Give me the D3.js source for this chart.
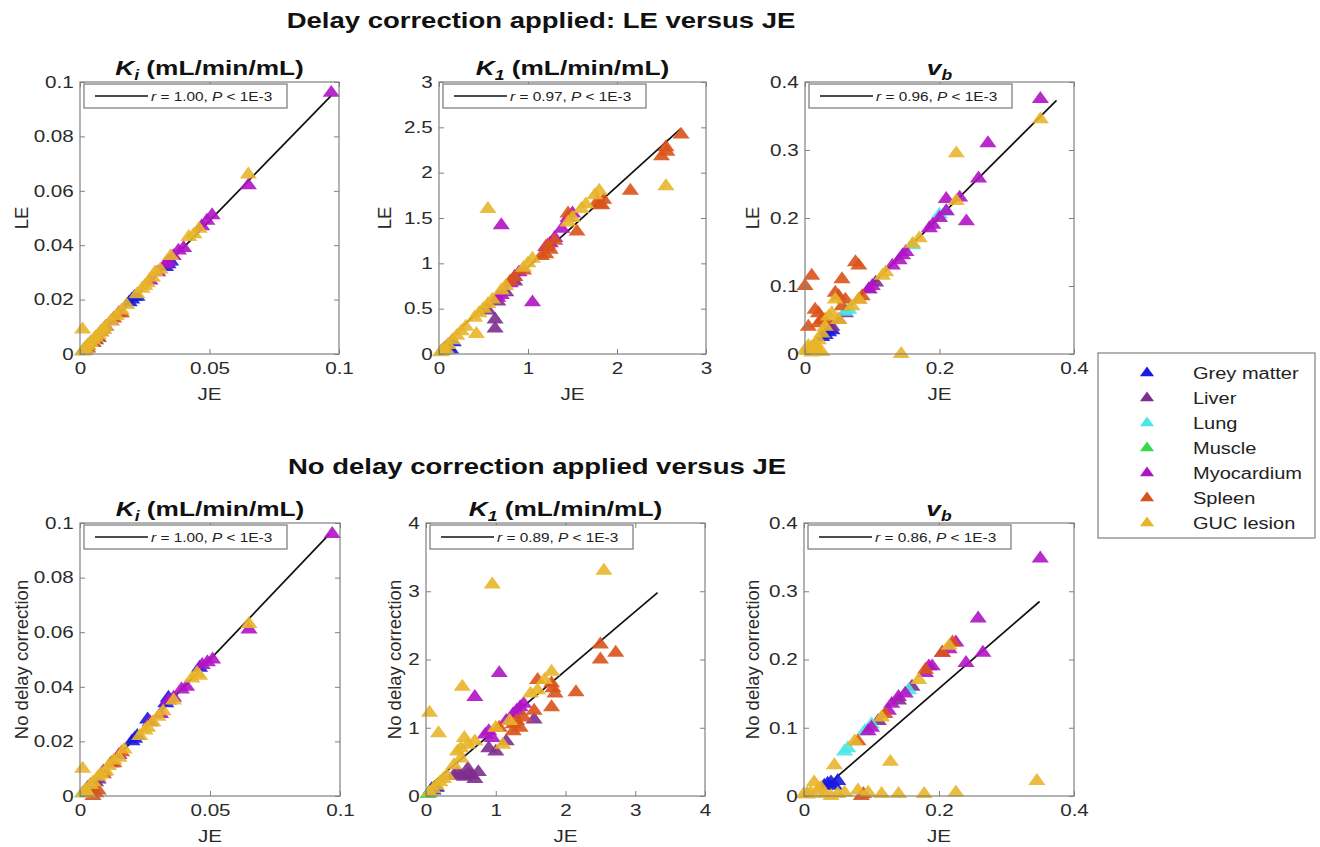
<!DOCTYPE html>
<html>
<head>
<meta charset="utf-8">
<script src="https://cdn.jsdelivr.net/npm/d3@7"></script>
<style>
body { margin: 0; background: #fff; }
text { font-family: "Liberation Sans", Arial, sans-serif; }
</style>
</head>
<body>
<script>
// the figure is stretched horizontally, so text and markers get this x scale
var sx = 1.25;

var tissues = ["Grey matter", "Liver", "Lung", "Muscle", "Myocardium", "Spleen", "GUC lesion"];
var tissueColors = ["#1a1ae0", "#7e2f8e", "#4de6e6", "#38d848", "#b014c4", "#d95319", "#e8b52a"];

// [JE, other, tissue index]
var kiLE = [
  [0.019,0.019,0],[0.020,0.020,0],[0.021,0.021,0],[0.022,0.021,0],[0.033,0.032,0],[0.034,0.033,0],[0.035,0.034,0],
  [0.002,0.002,1],[0.003,0.003,1],[0.004,0.004,1],[0.005,0.004,1],[0.006,0.005,1],[0.007,0.006,1],[0.008,0.008,1],[0.010,0.010,1],
  [0.001,0.001,2],[0.002,0.002,2],
  [0.003,0.003,3],[0.004,0.004,3],
  [0.097,0.096,4],[0.065,0.062,4],[0.051,0.051,4],[0.049,0.049,4],[0.047,0.047,4],[0.040,0.039,4],[0.038,0.038,4],[0.036,0.036,4],[0.034,0.034,4],[0.033,0.033,4],[0.030,0.030,4],[0.027,0.027,4],[0.015,0.015,4],[0.012,0.012,4],
  [0.003,0.002,5],[0.005,0.004,5],[0.006,0.006,5],[0.007,0.006,5],[0.009,0.009,5],[0.013,0.013,5],[0.016,0.015,5],
  [0.065,0.066,6],[0.046,0.046,6],[0.044,0.044,6],[0.042,0.043,6],[0.035,0.036,6],[0.031,0.031,6],[0.029,0.030,6],[0.028,0.028,6],[0.026,0.026,6],[0.025,0.025,6],[0.024,0.024,6],[0.022,0.022,6],[0.018,0.018,6],[0.016,0.016,6],[0.014,0.014,6],[0.012,0.012,6],[0.010,0.010,6],[0.009,0.009,6],[0.008,0.008,6],[0.007,0.007,6],[0.006,0.006,6],[0.005,0.005,6],[0.004,0.004,6],[0.003,0.003,6],[0.002,0.002,6],[0.001,0.009,6],[0.001,0.001,6],[0.002,0.001,6]
];

var k1LE = [
  [0.13,0.05,0],[0.10,0.08,0],[0.16,0.13,0],
  [0.63,0.38,1],[0.63,0.28,1],[0.66,0.58,1],[0.85,0.80,1],[0.75,0.68,1],[0.55,0.48,1],
  [0.05,0.04,2],
  [0.03,0.03,3],
  [0.70,1.42,4],[1.05,0.57,4],[1.38,1.38,4],[1.30,1.28,4],[1.25,1.22,4],[1.20,1.18,4],[0.90,0.90,4],[0.85,0.85,4],[0.80,0.78,4],[0.70,0.65,4],[0.66,0.62,4],[1.45,1.50,4],[1.50,1.55,4],
  [2.72,2.42,5],[2.55,2.28,5],[2.50,2.18,5],[2.56,2.23,5],[2.15,1.80,5],[1.85,1.70,5],[1.80,1.65,5],[1.78,1.68,5],[1.83,1.64,5],[1.55,1.35,5],[1.45,1.55,5],[1.30,1.25,5],[1.25,1.15,5],[1.20,1.10,5],[1.22,1.20,5],[1.15,1.08,5],[0.95,0.92,5],[0.85,0.85,5],[0.80,0.80,5],
  [2.55,1.85,6],[1.80,1.80,6],[0.55,1.60,6],[0.42,0.22,6],[1.65,1.65,6],[1.50,1.50,6],[1.45,1.45,6],[1.05,1.05,6],[1.00,1.00,6],[0.95,0.95,6],[0.75,0.75,6],[0.70,0.70,6],[0.60,0.60,6],[0.55,0.55,6],[0.50,0.50,6],[0.45,0.45,6],[0.40,0.40,6],[0.30,0.30,6],[0.25,0.25,6],[0.20,0.20,6],[0.15,0.15,6],[0.10,0.10,6],[0.05,0.05,6],[0.02,0.02,6],[0.08,0.05,6],[1.75,1.75,6],[1.60,1.60,6]
];

var vbLE = [
  [0.035,0.032,0],[0.030,0.028,0],[0.040,0.035,0],[0.025,0.025,0],
  [0.060,0.060,1],[0.050,0.050,1],[0.040,0.040,1],[0.095,0.095,1],[0.105,0.105,1],
  [0.065,0.065,2],[0.060,0.062,2],[0.210,0.210,2],[0.200,0.205,2],[0.160,0.160,2],
  [0.005,0.005,3],[0.008,0.007,3],
  [0.350,0.375,4],[0.272,0.310,4],[0.258,0.258,4],[0.240,0.195,4],[0.230,0.230,4],[0.210,0.228,4],[0.190,0.190,4],[0.185,0.185,4],[0.150,0.150,4],[0.145,0.145,4],[0.140,0.138,4],[0.130,0.130,4],[0.100,0.100,4],[0.095,0.095,4],[0.210,0.210,4],[0.200,0.200,4],
  [0.080,0.130,5],[0.075,0.135,5],[0.055,0.110,5],[0.010,0.115,5],[0.000,0.100,5],[0.050,0.085,5],[0.045,0.090,5],[0.060,0.080,5],[0.055,0.070,5],[0.020,0.060,5],[0.015,0.065,5],[0.005,0.040,5],[0.025,0.050,5],[0.080,0.080,5],[0.085,0.085,5],[0.020,0.045,5],[0.030,0.050,5],
  [0.350,0.345,6],[0.225,0.295,6],[0.143,0.000,6],[0.225,0.225,6],[0.170,0.170,6],[0.160,0.162,6],[0.120,0.120,6],[0.115,0.115,6],[0.080,0.080,6],[0.070,0.070,6],[0.050,0.050,6],[0.045,0.080,6],[0.040,0.060,6],[0.035,0.055,6],[0.030,0.040,6],[0.025,0.030,6],[0.020,0.020,6],[0.015,0.015,6],[0.010,0.010,6],[0.005,0.005,6],[0.000,0.005,6],[0.020,0.005,6],[0.025,0.003,6],[0.010,0.002,6],[0.015,0.008,6],[0.005,0.012,6]
];

var kiND = [
  [0.020,0.020,0],[0.021,0.021,0],[0.022,0.022,0],[0.033,0.034,0],[0.034,0.036,0],[0.046,0.047,0],[0.026,0.028,0],
  [0.003,0.003,1],[0.004,0.004,1],[0.006,0.005,1],[0.007,0.006,1],[0.009,0.009,1],[0.012,0.012,1],
  [0.002,0.002,2],[0.001,0.001,2],
  [0.003,0.002,3],
  [0.097,0.096,4],[0.065,0.061,4],[0.051,0.050,4],[0.049,0.049,4],[0.047,0.048,4],[0.041,0.040,4],[0.039,0.039,4],[0.036,0.036,4],[0.034,0.035,4],[0.031,0.030,4],[0.027,0.027,4],[0.015,0.015,4],
  [0.006,0.001,5],[0.007,0.002,5],[0.005,0.000,5],[0.009,0.008,5],[0.013,0.012,5],[0.016,0.016,5],
  [0.065,0.063,6],[0.046,0.044,6],[0.045,0.045,6],[0.043,0.043,6],[0.036,0.035,6],[0.032,0.031,6],[0.030,0.029,6],[0.028,0.027,6],[0.026,0.025,6],[0.025,0.024,6],[0.023,0.022,6],[0.017,0.017,6],[0.015,0.014,6],[0.013,0.013,6],[0.011,0.011,6],[0.010,0.009,6],[0.008,0.008,6],[0.007,0.007,6],[0.005,0.005,6],[0.004,0.004,6],[0.002,0.002,6],[0.001,0.010,6],[0.001,0.001,6],[0.003,0.001,6]
];

var k1ND = [
  [0.10,0.08,0],[0.15,0.12,0],[0.08,0.10,0],
  [0.50,0.30,1],[0.55,0.28,1],[0.60,0.32,1],[0.65,0.30,1],[0.70,0.25,1],[0.45,0.33,1],[0.60,0.40,1],[1.00,0.65,1],[1.15,0.80,1],[1.55,1.12,1],[0.90,0.70,1],[0.40,0.30,1],[0.75,0.35,1],
  [0.05,0.05,2],
  [0.03,0.03,3],
  [1.05,1.80,4],[0.70,1.45,4],[1.40,1.35,4],[1.30,1.25,4],[1.25,1.20,4],[1.15,1.10,4],[0.90,0.95,4],[0.85,0.90,4],[0.95,0.85,4],[1.35,1.30,4],
  [2.50,2.22,5],[2.50,2.00,5],[2.72,2.10,5],[2.15,1.52,5],[1.82,1.58,5],[1.80,1.65,5],[1.85,1.50,5],[1.80,1.30,5],[1.60,1.70,5],[1.55,1.25,5],[1.30,1.10,5],[1.25,1.05,5],[1.35,1.00,5],[1.25,0.95,5],[1.05,1.00,5],[1.40,1.15,5],
  [2.55,3.30,6],[0.95,3.10,6],[0.52,1.60,6],[0.05,1.22,6],[0.18,0.92,6],[1.80,1.82,6],[1.60,1.55,6],[1.50,1.50,6],[1.00,1.00,6],[0.55,0.85,6],[0.50,0.70,6],[0.45,0.65,6],[0.50,0.55,6],[0.40,0.45,6],[0.30,0.30,6],[0.25,0.25,6],[0.20,0.20,6],[0.15,0.15,6],[0.10,0.10,6],[0.05,0.05,6],[1.10,0.75,6],[1.20,1.10,6],[1.70,1.70,6],[0.60,0.75,6],[0.70,0.80,6]
];

var vbND = [
  [0.040,0.020,0],[0.050,0.022,0],[0.035,0.018,0],[0.045,0.015,0],[0.030,0.015,0],
  [0.110,0.110,1],[0.140,0.140,1],[0.160,0.160,1],
  [0.060,0.065,2],[0.065,0.070,2],[0.100,0.105,2],[0.090,0.095,2],[0.155,0.155,2],
  [0.005,0.003,3],
  [0.350,0.348,4],[0.258,0.260,4],[0.265,0.210,4],[0.240,0.195,4],[0.225,0.225,4],[0.215,0.215,4],[0.205,0.210,4],[0.190,0.190,4],[0.180,0.180,4],[0.150,0.150,4],[0.140,0.145,4],[0.130,0.135,4],[0.125,0.125,4],[0.100,0.100,4],[0.095,0.095,4],[0.185,0.190,4],
  [0.085,0.000,5],[0.088,0.003,5],[0.080,0.080,5],[0.120,0.120,5],[0.205,0.210,5],[0.220,0.225,5],[0.180,0.185,5],
  [0.345,0.022,6],[0.128,0.050,6],[0.045,0.045,6],[0.015,0.020,6],[0.225,0.005,6],[0.178,0.003,6],[0.140,0.003,6],[0.115,0.003,6],[0.095,0.005,6],[0.080,0.008,6],[0.060,0.005,6],[0.050,0.003,6],[0.030,0.003,6],[0.020,0.008,6],[0.010,0.005,6],[0.005,0.002,6],[0.000,0.003,6],[0.040,0.000,6],[0.170,0.170,6],[0.115,0.115,6],[0.215,0.220,6],[0.075,0.080,6],[0.025,0.012,6]
];

// regression line ends [x0, y0, x1, y1]
var kiLEFit = [0, 0, 0.097, 0.095];
var k1LEFit = [0, 0.07, 2.71, 2.48];
var vbLEFit = [0, 0.004, 0.374, 0.373];
var kiNDFit = [0, 0, 0.096, 0.096];
var k1NDFit = [0.04, 0.14, 3.32, 2.98];
var vbNDFit = [0.038, 0.019, 0.349, 0.285];

var rValues = ["1.00", "0.97", "0.96", "1.00", "0.89", "0.86"];

var kiXTicks = [0, 0.05, 0.1], kiYTicks = [0, 0.02, 0.04, 0.06, 0.08, 0.1];
var k1XTicks = [0, 1, 2, 3], k1YTicks = [0, 0.5, 1, 1.5, 2, 2.5, 3];
var k1NDTicks = [0, 1, 2, 3, 4];
var vbTicks = [0, 0.2, 0.4], vbYTicks = [0, 0.1, 0.2, 0.3, 0.4];

var panels = [
  {data: kiLE, fit: kiLEFit, r: rValues[0], xDom: [0, 0.1], yDom: [0, 0.1], xt: kiXTicks, yt: kiYTicks,
   left: 80, right: 339, top: 82, bottom: 354, ylab: "LE", ylabX: 22, title: ["K", "i", " (mL/min/mL)"]},
  {data: k1LE, fit: k1LEFit, r: rValues[1], xDom: [0, 3], yDom: [0, 3], xt: k1XTicks, yt: k1YTicks,
   left: 439, right: 706, top: 82, bottom: 354, ylab: "LE", ylabX: 385, title: ["K", "1", " (mL/min/mL)"]},
  {data: vbLE, fit: vbLEFit, r: rValues[2], xDom: [0, 0.4], yDom: [0, 0.4], xt: vbTicks, yt: vbYTicks,
   left: 805, right: 1074, top: 82, bottom: 354, ylab: "LE", ylabX: 753, title: ["v", "b", ""]},
  {data: kiND, fit: kiNDFit, r: rValues[3], xDom: [0, 0.1], yDom: [0, 0.1], xt: kiXTicks, yt: kiYTicks,
   left: 80, right: 340, top: 523, bottom: 796, ylab: "No delay correction", ylabX: 22, title: ["K", "i", " (mL/min/mL)"]},
  {data: k1ND, fit: k1NDFit, r: rValues[4], xDom: [0, 4], yDom: [0, 4], xt: k1NDTicks, yt: k1NDTicks,
   left: 426, right: 705, top: 523, bottom: 796, ylab: "No delay correction", ylabX: 395, title: ["K", "1", " (mL/min/mL)"]},
  {data: vbND, fit: vbNDFit, r: rValues[5], xDom: [0, 0.4], yDom: [0, 0.4], xt: vbTicks, yt: vbYTicks,
   left: 804, right: 1074, top: 523, bottom: 796, ylab: "No delay correction", ylabX: 753, title: ["v", "b", ""]}
];

var svg = d3.select("body").append("svg")
    .attr("width", 1320)
    .attr("height", 847);

var tri = d3.symbol().type(d3.symbolTriangle).size(82);

function stretch(x, y){
    return "translate(" + x + "," + y + ") scale(" + sx + ",1)";
}

// main headings
svg.append("text")
    .attr("transform", stretch(541, 28))
    .attr("text-anchor", "middle")
    .style("font-size", "22px").style("font-weight", "bold").attr("fill", "#111")
    .text("Delay correction applied: LE versus JE");
svg.append("text")
    .attr("transform", stretch(537, 474))
    .attr("text-anchor", "middle")
    .style("font-size", "22px").style("font-weight", "bold").attr("fill", "#111")
    .text("No delay correction applied versus JE");

panels.forEach(drawPanel);
drawLegend();

function drawPanel(p){
    var x = d3.scaleLinear().domain(p.xDom).range([p.left, p.right]);
    var y = d3.scaleLinear().domain(p.yDom).range([p.bottom, p.top]);
    var g = svg.append("g");

    //fit line sits under the markers
    g.append("line")
        .attr("x1", x(p.fit[0])).attr("y1", y(p.fit[1]))
        .attr("x2", x(p.fit[2])).attr("y2", y(p.fit[3]))
        .attr("stroke", "#111").attr("stroke-width", 1.7);

    g.selectAll(".pt")
        .data(p.data.slice().sort(function(a, b){ return a[2] - b[2]; }))
        .enter()
        .append("path")
        .attr("class", "pt")
        .attr("d", tri)
        .attr("transform", function(d){ return stretch(x(d[0]), y(d[1])); })
        .attr("fill", function(d){ return tissueColors[d[2]]; })
        .attr("fill-opacity", 0.9);

    //axes with ticks pointing inward
    var axes = [
        g.append("g").attr("transform", "translate(0," + p.bottom + ")")
            .call(d3.axisBottom(x).tickValues(p.xt).tickSize(-5).tickPadding(8).tickFormat(String)),
        g.append("g").attr("transform", "translate(0," + p.top + ")")
            .call(d3.axisTop(x).tickValues(p.xt).tickSize(-5).tickFormat("")),
        g.append("g").attr("transform", "translate(" + p.left + ",0)")
            .call(d3.axisLeft(y).tickValues(p.yt).tickSize(-5).tickPadding(5).tickFormat(String)),
        g.append("g").attr("transform", "translate(" + p.right + ",0)")
            .call(d3.axisRight(y).tickValues(p.yt).tickSize(-5).tickFormat(""))
    ];
    axes.forEach(function(a){
        a.attr("font-size", 16.5).attr("font-family", "Liberation Sans, Arial, sans-serif");
        a.select(".domain").remove();
        a.selectAll(".tick line").attr("stroke", "#808080");
        a.selectAll(".tick text").attr("fill", "#2a2a2a").attr("transform", "scale(" + sx + ",1)");
    });

    //axes box
    g.append("rect")
        .attr("x", p.left).attr("y", p.top)
        .attr("width", p.right - p.left).attr("height", p.bottom - p.top)
        .attr("fill", "none").attr("stroke", "#808080").attr("stroke-width", 1.2);

    //r / P legend
    var lx = p.left + 4, ly = p.top + 2;
    g.append("rect")
        .attr("x", lx).attr("y", ly).attr("width", 203).attr("height", 24)
        .attr("fill", "#fff").attr("stroke", "#777").attr("stroke-width", 1.2);
    g.append("line")
        .attr("x1", lx + 11).attr("x2", lx + 64)
        .attr("y1", ly + 12).attr("y2", ly + 12)
        .attr("stroke", "#111").attr("stroke-width", 1.7);
    var rt = g.append("text")
        .attr("transform", stretch(lx + 67, ly + 16.5))
        .style("font-size", "12.3px").attr("fill", "#222");
    rt.append("tspan").style("font-style", "italic").text("r");
    rt.append("tspan").text(" = " + p.r + ",  ");
    rt.append("tspan").style("font-style", "italic").text("P");
    rt.append("tspan").text(" < 1E-3");

    //labels
    g.append("text")
        .attr("transform", stretch((p.left + p.right) / 2, p.bottom + 46))
        .attr("text-anchor", "middle")
        .style("font-size", "16.5px").attr("fill", "#2a2a2a")
        .text("JE");
    g.append("text")
        .attr("transform", "translate(" + p.ylabX + "," + ((p.top + p.bottom) / 2) + ") rotate(-90)")
        .attr("text-anchor", "middle")
        .attr("dy", "0.35em")
        .style("font-size", "18.5px").attr("fill", "#2a2a2a")
        .text(p.ylab);

    var t = g.append("text")
        .attr("transform", stretch((p.left + p.right) / 2, p.top - 7))
        .attr("text-anchor", "middle")
        .style("font-size", "21px").style("font-weight", "bold").attr("fill", "#111");
    t.append("tspan").style("font-style", "italic").text(p.title[0]);
    t.append("tspan").style("font-style", "italic").style("font-size", "14px").attr("dy", 5).text(p.title[1]);
    if (p.title[2]) t.append("tspan").attr("dy", -5).text(p.title[2]);
}

function drawLegend(){
    var lg = svg.append("g");
    lg.append("rect")
        .attr("x", 1098).attr("y", 353).attr("width", 217).attr("height", 185)
        .attr("fill", "#fff").attr("stroke", "#808080").attr("stroke-width", 1.2);
    var items = lg.selectAll(".item")
        .data(tissues)
        .enter()
        .append("g")
        .attr("class", "item");
    items.append("path")
        .attr("d", d3.symbol().type(d3.symbolTriangle).size(55))
        .attr("transform", function(d, i){ return stretch(1147, 373 + i * 25); })
        .attr("fill", function(d, i){ return tissueColors[i]; });
    items.append("text")
        .attr("transform", function(d, i){ return stretch(1193, 373 + i * 25); })
        .attr("dy", "0.35em")
        .style("font-size", "16px").attr("fill", "#222")
        .text(function(d){ return d; });
}
</script>
</body>
</html>
